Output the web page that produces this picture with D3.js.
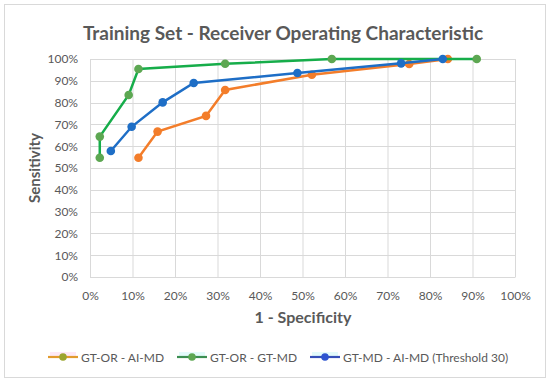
<!DOCTYPE html>
<html><head><meta charset="utf-8">
<script src="https://cdn.jsdelivr.net/npm/d3@7"></script>
<style>body{margin:0;background:#fff;}svg{display:block;font-family:Lato,"Open Sans",sans-serif;}</style>
</head><body>
<script>
const seriesNames = ["GT-OR - AI-MD", "GT-OR - GT-MD", "GT-MD - AI-MD (Threshold 30)"];
const orX = [0.114, 0.159, 0.273, 0.318, 0.522, 0.751, 0.842];
const orY = [0.547, 0.667, 0.739, 0.858, 0.928, 0.977, 1.0];
const grX = [0.023, 0.023, 0.091, 0.114, 0.318, 0.569, 0.910];
const grY = [0.547, 0.644, 0.835, 0.954, 0.978, 1.0, 1.0];
const blX = [0.049, 0.098, 0.171, 0.244, 0.488, 0.732, 0.830];
const blY = [0.578, 0.689, 0.801, 0.890, 0.936, 0.980, 1.0];
const tickValues = [0,0.1,0.2,0.3,0.4,0.5,0.6,0.7,0.8,0.9,1.0];

const W=550,H=384;
const svg=d3.select("body").append("svg").attr("width",W).attr("height",H);
svg.append("rect").attr("x",4.5).attr("y",4.5).attr("width",541).attr("height",373).attr("fill","#fff").attr("stroke","#d9d9d9");

const x=d3.scaleLinear().domain([0,1]).range([90,515]);
const y=d3.scaleLinear().domain([0,1]).range([277,59]);
const fmt=d3.format(".0%");

// gridlines
svg.append("g").selectAll("line.v").data(tickValues).join("line")
 .attr("x1",d=>x(d)+0.5).attr("x2",d=>x(d)+0.5).attr("y1",y(1)).attr("y2",y(0))
 .attr("stroke","#d9d9d9");
svg.append("g").selectAll("line.h").data(tickValues).join("line")
 .attr("y1",d=>Math.round(y(d))+0.5).attr("y2",d=>Math.round(y(d))+0.5).attr("x1",x(0)).attr("x2",x(1))
 .attr("stroke","#d9d9d9");

const xAxis=svg.append("g").attr("transform",`translate(0,${y(0)})`)
 .call(d3.axisBottom(x).tickValues(tickValues).tickFormat(fmt).tickSize(0).tickPadding(14));
const yAxis=svg.append("g").attr("transform",`translate(${x(0)},0)`)
 .call(d3.axisLeft(y).tickValues(tickValues).tickFormat(fmt).tickSize(0).tickPadding(12));
[xAxis,yAxis].forEach(a=>{a.select(".domain").attr("stroke","#d9d9d9");
 a.selectAll("text").attr("fill","#595959").style("font-size","12px").style("font-family","Lato, sans-serif");});

svg.append("text").attr("x",283).attr("y",40).attr("text-anchor","middle")
 .attr("fill","#595959").style("font-size","19px").style("font-weight","bold")
 .text("Training Set - Receiver Operating Characteristic");
svg.append("text").attr("transform","translate(40,168) rotate(-90)").attr("text-anchor","middle")
 .attr("fill","#595959").style("font-size","15px").style("font-weight","bold").text("Sensitivity");
svg.append("text").attr("x",303).attr("y",323).attr("text-anchor","middle")
 .attr("fill","#595959").style("font-size","16px").style("font-weight","bold").text("1 - Specificity");

const series=[
 {xs:orX,ys:orY,line:"#F37D2A",mark:"#F37D2A"},
 {xs:grX,ys:grY,line:"#16AD4A",mark:"#5DA752"},
 {xs:blX,ys:blY,line:"#1E6EC6",mark:"#1E6EC6"}
];
const line=d3.line().x(d=>x(d[0])).y(d=>y(d[1]));
series.forEach(s=>{
 const pts=s.xs.map((v,i)=>[v,s.ys[i]]);
 const g=svg.append("g");
 g.append("path").datum(pts).attr("d",line).attr("fill","none").attr("stroke",s.line).attr("stroke-width",2.5);
 g.selectAll("circle").data(pts).join("circle").attr("cx",d=>x(d[0])).attr("cy",d=>y(d[1])).attr("r",4.3).attr("fill",s.mark);
});

// legend
const leg=[
 {x:48,text:seriesNames[0],line:"#E29A2E",mark:"#9CA52F",bg:"#fde8f6"},
 {x:177,text:seriesNames[1],line:"#3C8F52",mark:"#5DA752",bg:"#e3fbfb"},
 {x:310,text:seriesNames[2],line:"#3550B8",mark:"#2E55D0",bg:"#e3fbfb"}
];
const lg=svg.append("g");
leg.forEach(l=>{
 lg.append("rect").attr("x",l.x+2).attr("y",352).attr("width",26).attr("height",6).attr("fill",l.bg);
 lg.append("line").attr("x1",l.x).attr("x2",l.x+30).attr("y1",357).attr("y2",357).attr("stroke",l.line).attr("stroke-width",2.2);
 lg.append("circle").attr("cx",l.x+15).attr("cy",357).attr("r",3.8).attr("fill",l.mark);
 lg.append("text").attr("x",l.x+33).attr("y",361.5).attr("fill","#595959").style("font-size","12px").text(l.text);
});
</script>
</body></html>
